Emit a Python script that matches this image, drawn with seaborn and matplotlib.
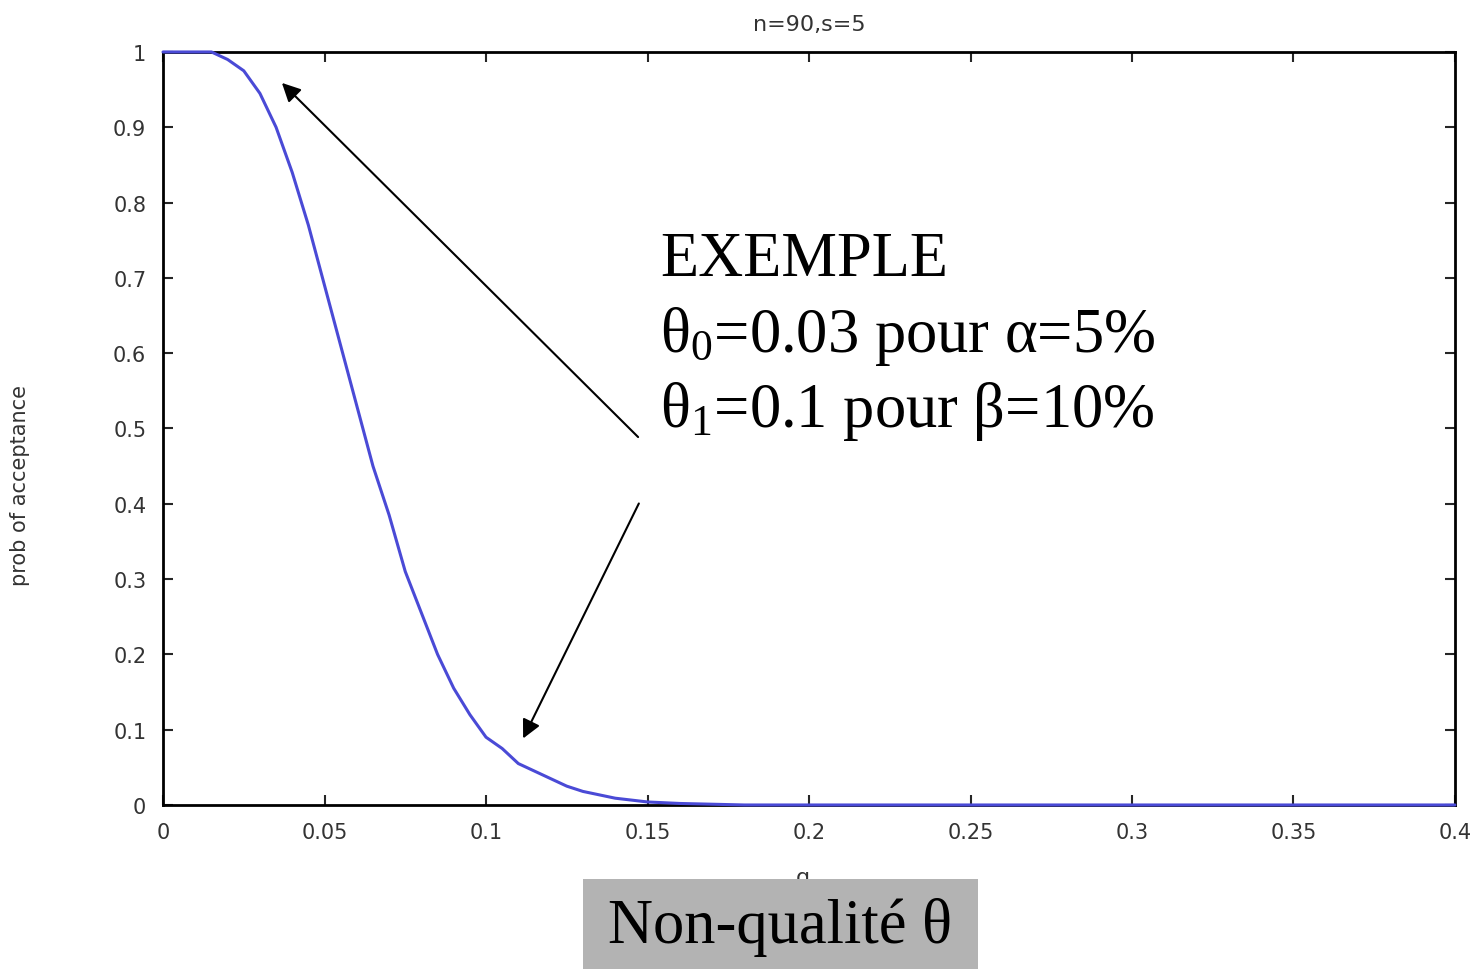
import numpy as np
import pandas as pd
import seaborn as sns
import matplotlib.pyplot as plt
from matplotlib.patches import Rectangle
from matplotlib.ticker import FuncFormatter

q = [0, 0.005, 0.01, 0.015, 0.02, 0.025, 0.03, 0.035, 0.04, 0.045, 0.05, 0.055,
     0.06, 0.065, 0.07, 0.075, 0.08, 0.085, 0.09, 0.095, 0.1, 0.105, 0.11, 0.115,
     0.12, 0.125, 0.13, 0.14, 0.15, 0.16, 0.17, 0.18, 0.2, 0.25, 0.3, 0.35, 0.4]
prob = [1, 1, 1, 1, 0.99, 0.975, 0.945, 0.9, 0.84, 0.77, 0.69, 0.61,
        0.53, 0.45, 0.385, 0.31, 0.255, 0.2, 0.155, 0.12, 0.09, 0.075, 0.055, 0.045,
        0.035, 0.025, 0.018, 0.009, 0.004, 0.002, 0.001, 0, 0, 0, 0, 0, 0]
xticks = [0, 0.05, 0.1, 0.15, 0.2, 0.25, 0.3, 0.35, 0.4]
yticks = [0, 0.1, 0.2, 0.3, 0.4, 0.5, 0.6, 0.7, 0.8, 0.9, 1]

df = pd.DataFrame({"q": q, "prob": prob})

sns.set_style("ticks")
plt.rcParams['font.family'] = ['DejaVu Sans']
plt.rcParams['mathtext.fontset'] = 'custom'
plt.rcParams['mathtext.rm'] = 'Liberation Serif'
plt.rcParams['mathtext.it'] = 'Liberation Serif'

fig = plt.figure(figsize=(14.74, 9.70), dpi=100)
ax = fig.add_axes([0.1106, 0.1691, 0.8765, 0.7763])

sns.lineplot(data=df, x="q", y="prob", ax=ax, color="#4a4ad6", linewidth=2.2)
for ln in ax.lines:
    ln.set_zorder(4)
    ln.set_clip_on(False)

ax.set_xlim(0, 0.4)
ax.set_ylim(0, 1)
ax.set_xticks(xticks)
ax.set_yticks(yticks)
fmt = FuncFormatter(lambda v, p: f"{v:g}")
ax.xaxis.set_major_formatter(fmt)
ax.yaxis.set_major_formatter(fmt)
ax.tick_params(direction='in', top=True, right=True, length=7, width=1.5,
               labelsize=15, labelcolor="#333333", pad=12)
for s in ax.spines.values():
    s.set_linewidth(2)
    s.set_color("black")

ax.set_title("n=90,s=5", fontsize=16, color="#333333", pad=16)
ax.set_ylabel("prob of acceptance", fontsize=15, color="#333333",
              family=['Liberation Sans Narrow', 'DejaVu Sans'])
ax.yaxis.set_label_coords(-0.103, 0.426)
ax.set_xlabel("q", fontsize=16, color="#333333", va='top')
ax.xaxis.set_label_coords(0.495, -0.083)

# texte de l'exemple
serif = ['Liberation Serif', 'DejaVu Serif']
ax.text(0.1539, 0.704, "EXEMPLE", fontsize=45, family=serif, va='baseline', color='black')
ax.text(0.1539, 0.603, "θ$_0$=0.03 pour α=5%", fontsize=45, family=serif, va='baseline', color='black')
ax.text(0.1539, 0.503, "θ$_1$=0.1 pour β=10%", fontsize=45, family=serif, va='baseline', color='black')

# flèches
ax.annotate("", xy=(0.0362, 0.9615), xytext=(0.1477, 0.486),
            arrowprops=dict(arrowstyle='-|>', color='black', lw=1.5, mutation_scale=28))
ax.annotate("", xy=(0.1111, 0.085), xytext=(0.1477, 0.4037),
            arrowprops=dict(arrowstyle='-|>', color='black', lw=1.5, mutation_scale=28))

# boîte grise en bas
box = Rectangle((0.3955, 0), 0.268, 0.0928, transform=fig.transFigure,
                facecolor="#b3b3b3", edgecolor="none", zorder=5)
fig.add_artist(box)
fig.text(0.529, 0.044, "Non-qualité θ", fontsize=45, family=serif,
         ha='center', va='center', zorder=6, color='black')

fig.savefig("out.png", dpi=100, facecolor="white")
